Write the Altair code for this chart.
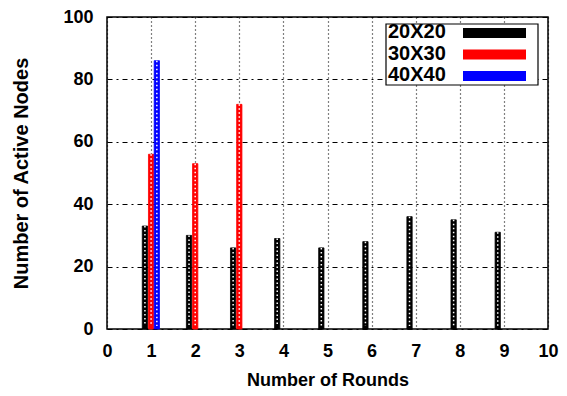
import altair as alt
import pandas as pd

rounds = [1, 2, 3, 4, 5, 6, 7, 8, 9]
nodes_20 = [33, 30, 26, 29, 26, 28, 36, 35, 31]
rounds_30 = [1, 2, 3]
nodes_30 = [56, 53, 72]
rounds_40 = [1]
nodes_40 = [86]

series_names = ["20X20", "30X30", "40X40"]
series_colors = ["#000000", "#ff0000", "#0000ff"]
series_shift = {"20X20": -0.14, "30X30": 0.0, "40X40": 0.13}

rows = []
for r, v in zip(rounds, nodes_20):
    rows.append({"round": r, "value": v, "series": "20X20"})
for r, v in zip(rounds_30, nodes_30):
    rows.append({"round": r, "value": v, "series": "30X30"})
for r, v in zip(rounds_40, nodes_40):
    rows.append({"round": r, "value": v, "series": "40X40"})
df = pd.DataFrame(rows)
df["shift"] = df["series"].map(series_shift)

FONT = "Liberation Sans"
color_scale = alt.Scale(domain=series_names, range=series_colors)
xs = alt.Scale(domain=[0, 10], nice=False)
ys = alt.Scale(domain=[0, 100], nice=False)

base = alt.Chart(df).transform_calculate(
    x0="datum.round + datum.shift - 0.06",
    x1="datum.round + datum.shift + 0.06",
)

bars = base.mark_bar(strokeWidth=0.8).encode(
    x=alt.X("x0:Q", scale=xs,
            axis=alt.Axis(values=list(range(0, 11)), title="Number of Rounds",
                          grid=True, gridDash=[1, 3], gridColor="#000000", gridOpacity=1,
                          gridWidth=1.2, labelFlush=False,
                          ticks=False, domain=False, labelPadding=13,
                          labelFontSize=18, labelFontWeight="bold", labelFont=FONT,
                          labelColor="#000000", titleFont=FONT, titleFontSize=18,
                          titleFontWeight="bold", titleColor="#000000", titlePadding=11)),
    x2="x1:Q",
    y=alt.Y("value:Q", scale=ys,
            axis=alt.Axis(values=[0, 20, 40, 60, 80, 100], title="Number of Active Nodes",
                          grid=True, gridDash=[5, 4, 2, 4], gridColor="#000000", gridOpacity=1,
                          gridWidth=1.2, labelFlush=False,
                          ticks=False, domain=False, labelPadding=14,
                          labelFontSize=18, labelFontWeight="bold", labelFont=FONT,
                          labelColor="#000000", titleFont=FONT, titleFontSize=20,
                          titleFontWeight="bold", titleColor="#000000", titlePadding=31)),
    y2=alt.datum(0),
    color=alt.Color("series:N", scale=color_scale, legend=None),
    stroke=alt.Stroke("series:N", scale=color_scale, legend=None),
)

# white dotted pattern inside bars
pattern = base.transform_calculate(xc="datum.round + datum.shift").mark_rule(
    color="white", strokeDash=[1.5, 2.5], strokeWidth=1.5
).encode(
    x=alt.X("xc:Q", scale=xs),
    y=alt.Y("value:Q", scale=ys),
    y2=alt.datum(1),
)

# manual legend (box in top-right, labels left of swatches)
leg = pd.DataFrame({"label": series_names, "color": series_colors, "i": [0, 1, 2]})
legend_base = alt.Chart(leg).transform_calculate(
    ty="15 + 21.5 * datum.i",
    sy0="11 + 21.5 * datum.i",
    sy1="21 + 21.5 * datum.i",
)
legend_box = alt.Chart(pd.DataFrame({"a": [0]})).mark_rect(
    fill="white", stroke="black", strokeWidth=1.2
).encode(
    x=alt.value(279), x2=alt.value(431), y=alt.value(7), y2=alt.value(68)
)
legend_text = legend_base.mark_text(
    align="left", baseline="middle", font=FONT, fontSize=20, fontWeight="bold", color="black"
).encode(
    x=alt.value(281),
    y=alt.Y("ty:Q", scale=None),
    text="label:N",
)
legend_sw = legend_base.mark_rect().encode(
    x=alt.value(356), x2=alt.value(419),
    y=alt.Y("sy0:Q", scale=None), y2="sy1:Q",
    color=alt.Color("color:N", scale=None),
)

chart = alt.layer(bars, pattern, legend_box, legend_text, legend_sw).properties(
    width=441, height=312,
    padding={"left": 107, "top": 17, "right": 19, "bottom": 67},
    autosize=alt.AutoSizeParams(type="none"),
    background="white",
).configure_view(stroke="black", strokeWidth=1.5)

chart.save("out.html", embed_options={"renderer": "svg", "actions": False})
